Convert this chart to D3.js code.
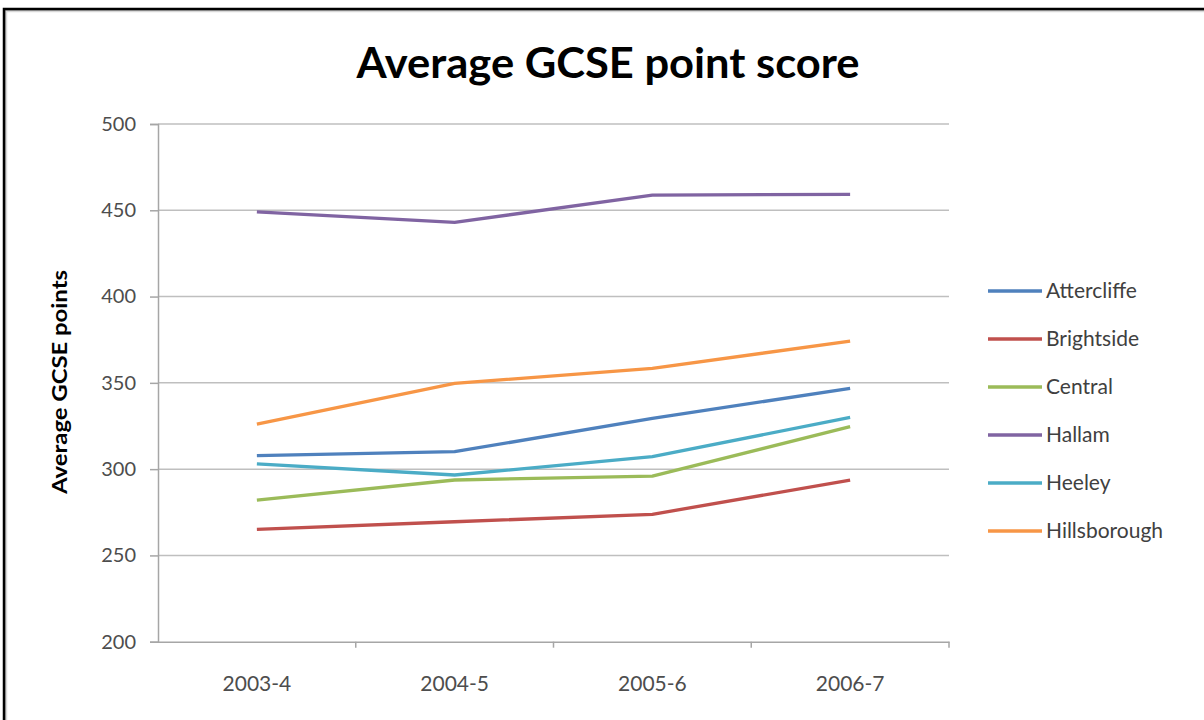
<!DOCTYPE html>
<html>
<head>
<meta charset="utf-8">
<script src="https://cdn.jsdelivr.net/npm/d3@7"></script>
<style>
  html, body { margin: 0; padding: 0; background: #fff; }
  svg { display: block; }
</style>
</head>
<body>
<svg id="chart" width="1204" height="720"></svg>
<script>
const categories = ["2003-4", "2004-5", "2005-6", "2006-7"];
const seriesNames = ["Attercliffe", "Brightside", "Central", "Hallam", "Heeley", "Hillsborough"];
const attercliffe = [307.8, 310.1, 329.4, 346.8];
const brightside = [265.1, 269.5, 273.8, 293.7];
const central = [282.1, 293.7, 296.0, 324.6];
const hallam = [449.1, 443.0, 458.8, 459.2];
const heeley = [303.0, 296.6, 307.2, 330.0];
const hillsborough = [326.1, 349.7, 358.4, 374.2];
const seriesColors = ["#4F81BD", "#C0504D", "#9BBB59", "#8064A2", "#4BACC6", "#F79646"];
const yTicks = [200, 250, 300, 350, 400, 450, 500];
const titleText = "Average GCSE point score";
const yAxisTitle = "Average GCSE points";

const seriesValues = [attercliffe, brightside, central, hallam, heeley, hillsborough];
const series = seriesNames.map((n, i) => ({ name: n, values: seriesValues[i], color: seriesColors[i] }));

const svg = d3.select("#chart");
const FONT = "Lato, 'Open Sans', 'Liberation Sans', sans-serif";

// outer frame (black left/top with grey inner shade)
svg.append("rect").attr("x", 5).attr("y", 10).attr("width", 1204).attr("height", 720)
  .attr("fill", "none").attr("stroke", "#a6a6a6").attr("stroke-width", 2.5);
svg.append("rect").attr("x", 6.5).attr("y", 11.5).attr("width", 1204).attr("height", 720)
  .attr("fill", "none").attr("stroke", "#d9d9d9").attr("stroke-width", 1.5);
svg.append("rect").attr("x", 4).attr("y", 9).attr("width", 1204).attr("height", 720)
  .attr("fill", "none").attr("stroke", "#000").attr("stroke-width", 2.5);

const plot = { left: 158, right: 949, top: 124, bottom: 641.7 };

const x = d3.scaleBand().domain(categories).range([plot.left, plot.right]).paddingInner(0).paddingOuter(0);
const y = d3.scaleLinear().domain([200, 500]).range([plot.bottom, plot.top]);

// gridlines
svg.append("g").selectAll("line").data(yTicks.filter(t => t !== 200)).join("line")
  .attr("x1", plot.left).attr("x2", plot.right)
  .attr("y1", d => y(d)).attr("y2", d => y(d))
  .attr("stroke", "#bfbfbf").attr("stroke-width", 1.5);

// y axis
const yAxis = svg.append("g").attr("transform", `translate(${plot.left},0)`)
  .call(d3.axisLeft(y).tickValues(yTicks).tickSize(8).tickPadding(14).tickFormat(d3.format("d")));
yAxis.select(".domain").attr("stroke", "#a6a6a6").attr("stroke-width", 1.5);
yAxis.selectAll(".tick line").attr("stroke", "#a6a6a6").attr("stroke-width", 1.5);
yAxis.selectAll("text").attr("fill", "#4d4d4d").style("font-family", FONT).style("font-size", "20px");

// x axis
const xAxis = svg.append("g").attr("transform", `translate(0,${plot.bottom})`)
  .call(d3.axisBottom(x).tickSize(0).tickPadding(34));
xAxis.select(".domain").attr("stroke", "#a6a6a6").attr("stroke-width", 1.5);
xAxis.selectAll("text").attr("fill", "#4d4d4d").style("font-family", FONT).style("font-size", "21px");
// category boundary tick marks
const boundaries = categories.map(c => x(c)).concat([x(categories[categories.length - 1]) + x.bandwidth()]);
xAxis.append("g").selectAll("line").data(boundaries.slice(1)).join("line")
  .attr("x1", d => d).attr("x2", d => d).attr("y1", 0).attr("y2", 6)
  .attr("stroke", "#a6a6a6").attr("stroke-width", 1.5);

// lines
const line = d3.line().x((d, i) => x(categories[i]) + x.bandwidth() / 2).y(d => y(d));
svg.append("g").selectAll("path").data(series).join("path")
  .attr("d", d => line(d.values))
  .attr("fill", "none").attr("stroke", d => d.color).attr("stroke-width", 3.3)
  .attr("stroke-linejoin", "round").attr("stroke-linecap", "butt");

// title
svg.append("text").attr("x", 608).attr("y", 78).attr("text-anchor", "middle")
  .style("font-family", FONT).style("font-weight", "bold").style("font-size", "42px")
  .attr("textLength", 503).attr("lengthAdjust", "spacingAndGlyphs")
  .attr("fill", "#000").text(titleText);

// y axis title
svg.append("text").attr("transform", "translate(67,382) rotate(-90)").attr("text-anchor", "middle")
  .style("font-family", FONT).style("font-weight", "bold").style("font-size", "21px")
  .attr("textLength", 224).attr("lengthAdjust", "spacingAndGlyphs")
  .attr("fill", "#000").text(yAxisTitle);

// legend
const legend = svg.append("g").selectAll("g").data(series).join("g")
  .attr("transform", (d, i) => `translate(988,${291 + i * 48})`);
legend.append("line").attr("x1", 0).attr("x2", 54).attr("y1", 0).attr("y2", 0)
  .attr("stroke", d => d.color).attr("stroke-width", 3.3);
legend.append("text").attr("x", 58).attr("y", 7)
  .style("font-family", FONT).style("font-size", "21px").attr("fill", "#404040")
  .text(d => d.name);
</script>
</body>
</html>
